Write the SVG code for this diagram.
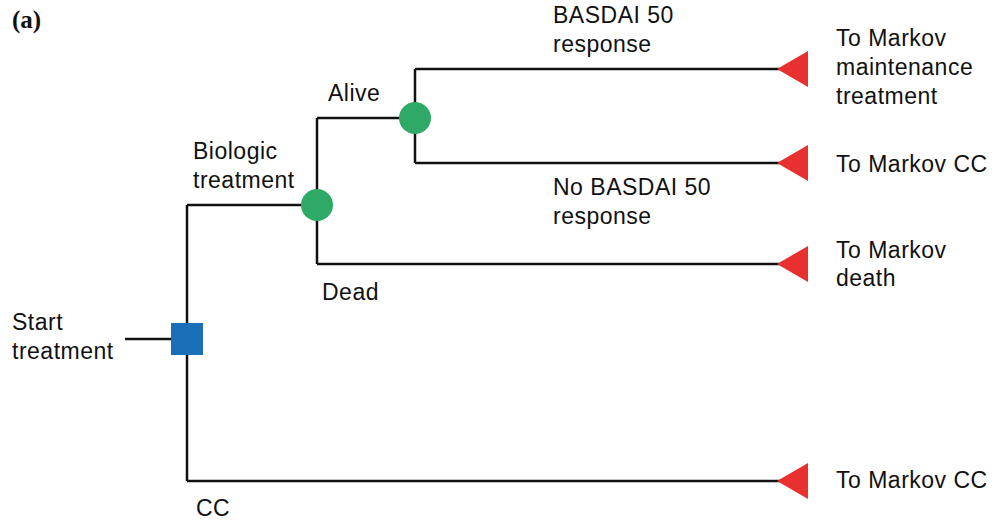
<svg xmlns="http://www.w3.org/2000/svg" width="1008" height="521" viewBox="0 0 1008 521">
<style>
.t{font-family:"Liberation Sans",Arial,sans-serif;font-size:23px;letter-spacing:0.5px;fill:#111}
.l{stroke:#111;stroke-width:2.5;fill:none}
.c{fill:#2eaa66}
.tri{fill:#e8302e}
</style>
<rect width="1008" height="521" fill="#fff"/>
<text x="12" y="28" font-family="Liberation Serif,serif" font-weight="bold" font-size="25" fill="#111">(a)</text>
<g id="connectors">
<path class="l" d="M125 339H187M187 205V481M187 205H317M317 118V264M317 118H415M415 69V163M415 69H780M415 163H780M317 264H780M187 481H780"/>
</g>
<g id="start"><rect x="171" y="323" width="32" height="32" fill="#1a6fb8"/></g>
<g id="chance1"><circle class="c" cx="317" cy="205" r="16"/></g>
<g id="chance2"><circle class="c" cx="415" cy="118" r="16"/></g>
<g id="term1"><polygon class="tri" points="777,69 808,51 808,87"/></g>
<g id="term2"><polygon class="tri" points="777,163 808,145 808,181"/></g>
<g id="term3"><polygon class="tri" points="777,264 808,246 808,282"/></g>
<g id="term4"><polygon class="tri" points="777,481 808,463 808,499"/></g>
<g id="labels">
<text class="t" x="12" y="330">Start</text>
<text class="t" x="12" y="359">treatment</text>
<text class="t" x="193" y="159">Biologic</text>
<text class="t" x="193" y="188">treatment</text>
<text class="t" x="328" y="101">Alive</text>
<text class="t" x="322" y="300">Dead</text>
<text class="t" x="553" y="23">BASDAI 50</text>
<text class="t" x="553" y="52">response</text>
<text class="t" x="553" y="195">No BASDAI 50</text>
<text class="t" x="553" y="224">response</text>
<text class="t" x="836" y="46">To Markov</text>
<text class="t" x="836" y="75">maintenance</text>
<text class="t" x="836" y="104">treatment</text>
<text class="t" x="836" y="172">To Markov CC</text>
<text class="t" x="836" y="258">To Markov</text>
<text class="t" x="836" y="286">death</text>
<text class="t" x="836" y="488">To Markov CC</text>
<text class="t" x="196" y="516">CC</text>
</g>
</svg>
